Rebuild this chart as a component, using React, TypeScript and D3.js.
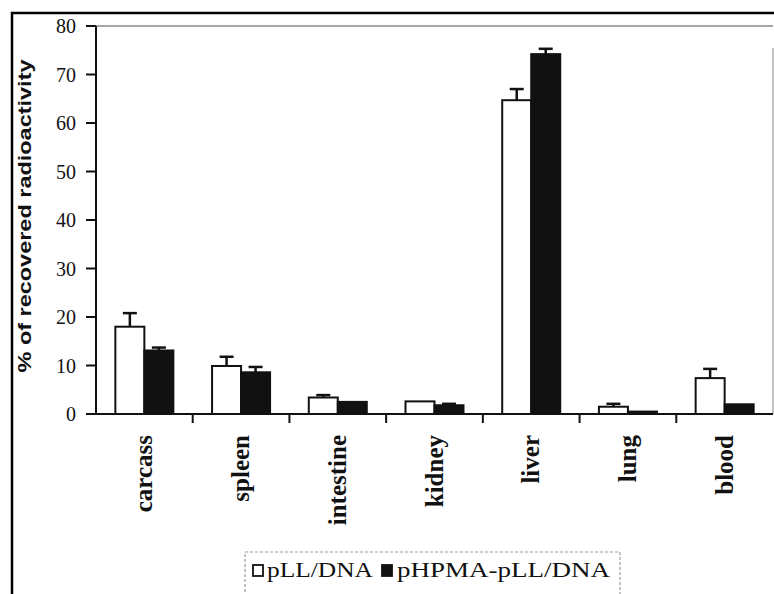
import React from "react";
import * as d3 from "d3";

const categories = ["carcass", "spleen", "intestine", "kidney", "liver", "lung", "blood"];
const pLL = [18, 9.9, 3.4, 2.6, 64.7, 1.5, 7.4];
const pLLErr = [2.8, 1.9, 0.5, 0, 2.3, 0.6, 1.9];
const pHPMA = [13.1, 8.6, 2.5, 1.8, 74.2, 0.5, 2];
const pHPMAErr = [0.6, 1.1, 0, 0.3, 1.1, 0, 0];
const yTicks = [0, 10, 20, 30, 40, 50, 60, 70, 80];
const seriesNames = ["pLL/DNA", "pHPMA-pLL/DNA"];

const W = 774, H = 594;
const left = 96, right = 773, top = 26, bottom = 414;

export default function App() {
  const x = d3.scaleBand<string>().domain(categories).range([left, right]).paddingInner(0).paddingOuter(0);
  const y = d3.scaleLinear().domain([0, 80]).range([bottom, top]);
  const bw = 29;
  const series = [
    { vals: pLL, errs: pLLErr, fill: "#fff", off: -bw },
    { vals: pHPMA, errs: pHPMAErr, fill: "#111", off: 0 },
  ];
  const serif = "'Liberation Serif', 'Times New Roman', serif";
  return (
    <svg width={W} height={H} style={{ position: "absolute", left: 0, top: 0, background: "#fff" }}>
      <rect x={12} y={13} width={900} height={900} fill="none" stroke="#000" strokeWidth={2.5} />
      {/* plot frame */}
      <line x1={left} x2={right} y1={top} y2={top} stroke="#888" strokeWidth={1.5} />
      <line x1={right} x2={right} y1={48} y2={bottom} stroke="#999" strokeWidth={1.2} />
      {/* bars */}
      {series.map((s, si) =>
        categories.map((c, i) => {
          const cx = x(c)! + x.bandwidth() / 2;
          const x0 = cx + s.off;
          const v = s.vals[i];
          const e = s.errs[i];
          return (
            <g key={si + "-" + c}>
              {e > 0 && (
                <g stroke="#111" strokeWidth={2.5}>
                  <line x1={x0 + bw / 2} x2={x0 + bw / 2} y1={y(v)} y2={y(v + e)} />
                  <line x1={x0 + bw / 2 - 7} x2={x0 + bw / 2 + 7} y1={y(v + e)} y2={y(v + e)} />
                </g>
              )}
              <rect x={x0} y={y(v)} width={bw} height={bottom - y(v)} fill={s.fill} stroke="#111" strokeWidth={2} />
            </g>
          );
        })
      )}
      {/* y axis */}
      <line x1={left} x2={left} y1={top} y2={bottom} stroke="#111" strokeWidth={2} />
      {yTicks.map((t) => (
        <g key={t}>
          <line x1={86} x2={left} y1={y(t)} y2={y(t)} stroke="#111" strokeWidth={2} />
          <text x={76} y={y(t)} dy="0.35em" textAnchor="end" fontFamily={serif} fontSize={20} fill="#111">
            {t}
          </text>
        </g>
      ))}
      {/* x axis */}
      <line x1={86} x2={right} y1={bottom} y2={bottom} stroke="#111" strokeWidth={2} />
      {categories.map((c, i) =>
        i > 0 ? (
          <line key={"t" + c} x1={x(c)!} x2={x(c)!} y1={bottom} y2={bottom + 9} stroke="#111" strokeWidth={2} />
        ) : null
      )}
      {categories.map((c) => {
        const cx = x(c)! + x.bandwidth() / 2 + 8;
        return (
          <text key={"l" + c} transform={`translate(${cx},435) rotate(-90)`} textAnchor="end" fontFamily={serif}
            fontWeight="bold" fontSize={25} fill="#111">
            {c}
          </text>
        );
      })}
      {/* y label */}
      <text transform="translate(31,216) rotate(-90)" textAnchor="middle" fontFamily="'Liberation Sans', Arial, sans-serif"
        fontWeight="bold" fontSize={19} fill="#111" textLength={313} lengthAdjust="spacingAndGlyphs">
        % of recovered radioactivity
      </text>
      {/* legend */}
      <rect x={245} y={552} width={375} height={80} fill="none" stroke="#999" strokeWidth={1.2} strokeDasharray="3,2" />
      <rect x={253} y={565} width={10} height={11} fill="#fff" stroke="#111" strokeWidth={1.8} />
      <text x={267} y={577} fontFamily={serif} fontSize={22} fill="#111" textLength={106} lengthAdjust="spacingAndGlyphs">
        {seriesNames[0]}
      </text>
      <rect x={382} y={565} width={10} height={11} fill="#111" stroke="#111" strokeWidth={1.8} />
      <text x={397} y={577} fontFamily={serif} fontSize={22} fill="#111" textLength={213} lengthAdjust="spacingAndGlyphs">
        {seriesNames[1]}
      </text>
    </svg>
  );
}
